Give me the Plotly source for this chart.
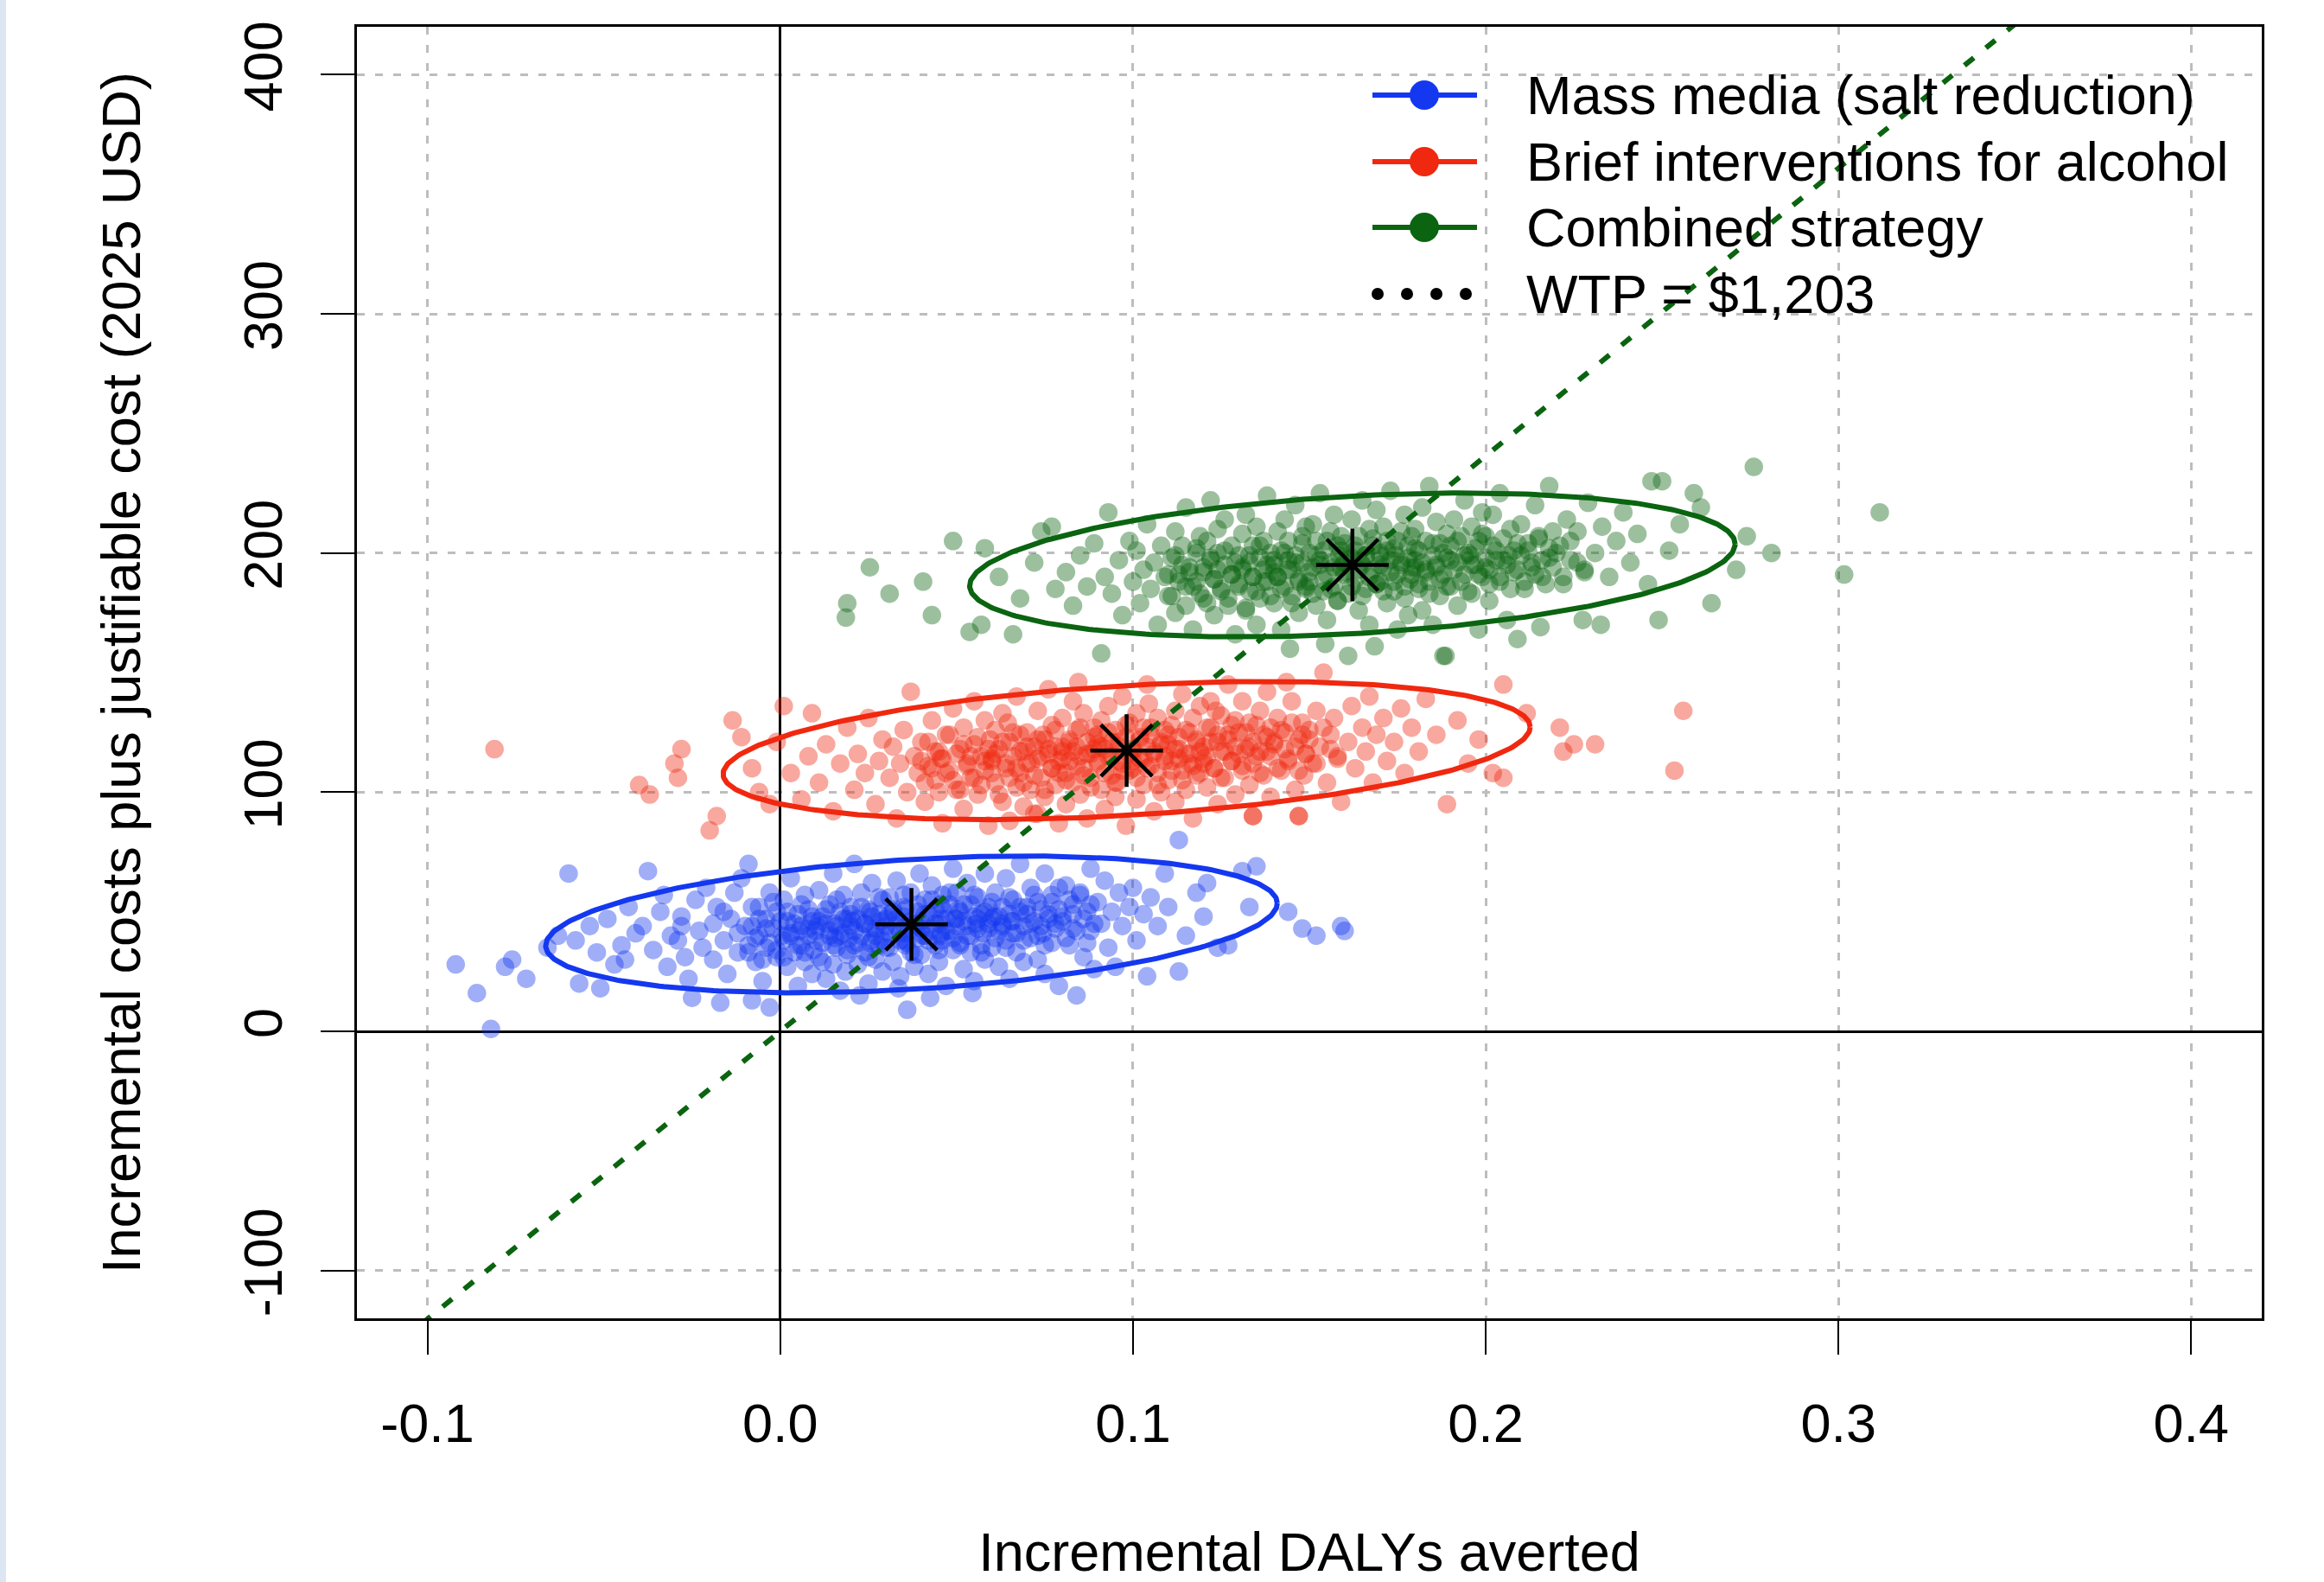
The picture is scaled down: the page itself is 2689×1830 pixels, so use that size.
import numpy as np
import plotly.graph_objects as go

# ---------------- data ----------------
series_names = ["Mass media (salt reduction)", "Brief interventions for alcohol", "Combined strategy"]
wtp_label = "WTP = $1,203"
wtp_value = 1203

x_tick_vals = [-0.1, 0.0, 0.1, 0.2, 0.3, 0.4]
x_tick_text = ["-0.1", "0.0", "0.1", "0.2", "0.3", "0.4"]
y_tick_vals = [-100, 0, 100, 200, 300, 400]
y_tick_text = ["-100", "0", "100", "200", "300", "400"]

x_title = "Incremental DALYs averted"
y_title = "Incremental costs plus justifiable cost (2025 USD)"

# simulated (PSA) points: (incremental DALYs averted, incremental cost)
blue_points = [
    (-0.092, 28), (-0.086, 16), (-0.082, 1), (-0.078, 27), (-0.076, 30), (-0.072, 22),
    (-0.066, 35), (-0.060, 66), (-0.063, 40), (-0.057, 20), (-0.054, 44), (-0.052, 33),
    (-0.051, 18), (-0.058, 38), (-0.049, 47), (-0.047, 28), (-0.045, 36), (-0.043, 52),
    (-0.041, 41), (-0.044, 30), (-0.0375, 67), (-0.039, 44), (-0.036, 34), (-0.034, 50),
    (-0.032, 27), (-0.031, 40), (-0.033, 57), (-0.029, 38), (-0.028, 48), (-0.027, 31),
    (-0.026, 22), (-0.025, 14), (-0.024, 55), (-0.023, 42), (-0.022, 35), (-0.021, 60),
    (-0.028, 44), (-0.019, 45), (-0.019, 30), (-0.018, 52), (-0.017, 12), (-0.016, 38),
    (-0.015, 24), (-0.014, 47), (-0.013, 58), (-0.012, 33), (-0.012, 41), (-0.011, 64),
    (-0.016, 50), (-0.009, 70), (-0.009, 36), (-0.008, 13), (-0.008, 44), (-0.007, 29),
    (-0.006, 52), (-0.006, 40), (-0.005, 21), (-0.004, 47), (-0.004, 35), (-0.003, 10),
    (-0.003, 58), (-0.002, 43), (-0.001, 31), (-0.001, 50),
    (0.001, 38), (0.001, 55), (0.002, 46), (0.002, 27), (0.003, 64), (0.003, 41),
    (0.004, 33), (0.005, 49), (0.005, 19), (0.006, 44), (0.006, 36), (0.007, 57),
    (0.007, 29), (0.008, 40), (0.008, 51), (0.009, 24), (0.009, 46), (0.0095, 34),
    (0.010, 42), (0.011, 59), (0.011, 31), (0.012, 48), (0.012, 37), (0.013, 22),
    (0.013, 45), (0.014, 53), (0.014, 40), (0.015, 66), (0.015, 28), (0.016, 44),
    (0.016, 35), (0.017, 50), (0.017, 17), (0.018, 41), (0.018, 57), (0.019, 32),
    (0.019, 47), (0.0195, 39), (0.0185, 25),
    (0.020, 44), (0.020, 52), (0.021, 36), (0.021, 70), (0.022, 28), (0.022, 47),
    (0.023, 40), (0.023, 58), (0.024, 33), (0.024, 45), (0.025, 20), (0.025, 51),
    (0.026, 38), (0.026, 62), (0.027, 43), (0.027, 30), (0.028, 49), (0.028, 36),
    (0.029, 55), (0.029, 25), (0.0295, 42), (0.0285, 46), (0.0225, 15),
    (0.030, 47), (0.030, 35), (0.031, 56), (0.031, 41), (0.032, 29), (0.032, 50),
    (0.033, 44), (0.033, 63), (0.034, 38), (0.034, 23), (0.035, 48), (0.035, 52),
    (0.036, 9), (0.036, 41), (0.037, 33), (0.037, 58), (0.038, 45), (0.038, 27),
    (0.039, 50), (0.039, 39), (0.0395, 66), (0.0385, 44), (0.0335, 18), (0.0355, 36),
    (0.040, 46), (0.040, 32), (0.041, 55), (0.041, 40), (0.042, 24), (0.042, 49),
    (0.043, 43), (0.043, 61), (0.044, 36), (0.044, 51), (0.045, 29), (0.045, 45),
    (0.046, 57), (0.046, 38), (0.047, 47), (0.047, 19), (0.048, 53), (0.048, 42),
    (0.049, 34), (0.049, 68), (0.0495, 47), (0.0455, 40), (0.0425, 14),
    (0.050, 44), (0.050, 58), (0.051, 37), (0.051, 50), (0.052, 26), (0.052, 46),
    (0.053, 62), (0.053, 40), (0.054, 33), (0.054, 53), (0.055, 48), (0.055, 21),
    (0.056, 43), (0.056, 56), (0.057, 36), (0.057, 49), (0.058, 30), (0.058, 66),
    (0.059, 45), (0.059, 52), (0.0545, 16), (0.0575, 41),
    (0.060, 47), (0.060, 35), (0.061, 58), (0.062, 42), (0.062, 27), (0.063, 52),
    (0.063, 45), (0.064, 64), (0.064, 38), (0.065, 49), (0.065, 22), (0.066, 55),
    (0.066, 41), (0.067, 33), (0.068, 50), (0.068, 70), (0.069, 44), (0.069, 29),
    (0.0655, 46),
    (0.070, 52), (0.071, 39), (0.071, 60), (0.072, 46), (0.073, 30), (0.073, 54),
    (0.074, 44), (0.075, 66), (0.075, 24), (0.076, 49), (0.077, 37), (0.077, 57),
    (0.078, 45), (0.079, 19), (0.079, 51), (0.0745, 41),
    (0.080, 48), (0.081, 61), (0.082, 36), (0.083, 53), (0.083, 43), (0.084, 15),
    (0.085, 57), (0.086, 31), (0.087, 50), (0.088, 68), (0.088, 42), (0.089, 26),
    (0.090, 54), (0.091, 45), (0.092, 63), (0.093, 35), (0.094, 50), (0.095, 27),
    (0.096, 58), (0.097, 44), (0.099, 52),
    (0.100, 60), (0.101, 38), (0.103, 49), (0.104, 23), (0.105, 56), (0.107, 44),
    (0.109, 66), (0.110, 52), (0.113, 25), (0.113, 80), (0.115, 40), (0.118, 58),
    (0.120, 48), (0.121, 62), (0.124, 35), (0.127, 36), (0.131, 67), (0.135, 69),
    (0.133, 52), (0.144, 50), (0.148, 43), (0.152, 40), (0.160, 42), (0.159, 44),
]

blue_core_points = [
    (-0.010, 44), (-0.009, 33), (-0.008, 52), (-0.007, 39), (-0.006, 47), (-0.005, 30),
    (-0.004, 43), (-0.003, 37), (-0.002, 54), (-0.001, 34),
    (0.000, 46), (0.001, 31), (0.002, 50), (0.003, 40), (0.004, 45), (0.005, 36),
    (0.006, 53), (0.007, 33), (0.008, 43), (0.009, 48),
    (0.010, 38), (0.011, 46), (0.012, 29), (0.013, 51), (0.014, 42), (0.015, 36),
    (0.016, 55), (0.017, 40), (0.018, 47), (0.019, 34),
    (0.020, 49), (0.021, 42), (0.022, 37), (0.023, 52), (0.024, 45), (0.025, 31),
    (0.026, 48), (0.027, 40), (0.028, 56), (0.029, 38),
    (0.030, 44), (0.031, 35), (0.032, 51), (0.033, 47), (0.034, 41), (0.035, 57),
    (0.036, 37), (0.037, 46), (0.038, 32), (0.039, 53),
    (0.040, 43), (0.041, 49), (0.042, 38), (0.043, 55), (0.044, 45), (0.045, 34),
    (0.046, 51), (0.047, 42), (0.048, 58), (0.049, 39),
    (0.050, 47), (0.051, 36), (0.052, 53), (0.053, 44), (0.054, 40), (0.055, 57),
    (0.056, 47), (0.057, 33), (0.058, 50), (0.059, 43),
    (0.060, 54), (0.061, 39), (0.062, 48), (0.063, 44), (0.064, 35), (0.065, 56),
    (0.066, 46), (0.067, 41), (0.068, 52), (0.069, 38),
    (0.070, 49), (0.071, 45), (0.072, 57), (0.073, 40), (0.074, 51), (0.075, 36),
    (0.076, 47), (0.077, 54), (0.078, 43), (0.079, 60),
    (0.080, 46), (0.081, 39), (0.082, 55), (0.083, 49), (0.084, 42), (0.085, 58),
    (0.086, 47), (0.087, 37), (0.088, 53), (0.089, 45),
    (0.0055, 42), (0.0155, 45), (0.0255, 43), (0.0355, 44), (0.0455, 47), (0.0255, 50),
    (0.0355, 38), (0.0455, 41), (0.0155, 39), (0.0555, 45),
    (0.0305, 48), (0.0405, 40), (0.0205, 46), (0.0505, 51), (0.0105, 44), (0.0605, 48),
    (0.0005, 40), (0.0355, 51), (0.0455, 53), (0.0255, 37),
]

red_points = [
    (-0.081, 118), (-0.040, 103), (-0.037, 99), (-0.028, 118), (-0.030, 112), (-0.029, 106),
    (-0.0135, 130), (-0.011, 123), (-0.018, 90), (-0.020, 84),
    (-0.008, 110), (-0.006, 100), (-0.003, 95), (-0.001, 121),
    (0.001, 136), (0.003, 108), (0.006, 97), (0.009, 133), (0.008, 115),
    (0.011, 104), (0.013, 120), (0.015, 92), (0.017, 112), (0.019, 127),
    (0.021, 101), (0.022, 116), (0.024, 108), (0.025, 131), (0.027, 95), (0.028, 113),
    (0.029, 122),
    (0.031, 106), (0.032, 119), (0.033, 89), (0.034, 112), (0.035, 126), (0.036, 100),
    (0.037, 142), (0.038, 115), (0.039, 108),
    (0.040, 121), (0.041, 96), (0.042, 111), (0.043, 130), (0.044, 105), (0.045, 117),
    (0.046, 87), (0.047, 124), (0.048, 109), (0.049, 135), (0.0455, 114),
    (0.050, 101), (0.051, 118), (0.052, 127), (0.052, 93), (0.053, 112), (0.054, 106),
    (0.055, 138), (0.055, 120), (0.056, 99), (0.057, 115), (0.058, 130), (0.058, 109),
    (0.059, 86), (0.0595, 122),
    (0.060, 113), (0.061, 104), (0.061, 126), (0.062, 118), (0.063, 96), (0.063, 133),
    (0.064, 110), (0.065, 121), (0.065, 88), (0.066, 115), (0.067, 102), (0.067, 140),
    (0.068, 124), (0.068, 108), (0.069, 117), (0.069, 94), (0.0645, 129),
    (0.070, 112), (0.070, 125), (0.071, 101), (0.072, 119), (0.072, 91), (0.073, 134),
    (0.073, 114), (0.074, 106), (0.075, 122), (0.075, 98), (0.076, 116), (0.076, 143),
    (0.077, 110), (0.077, 128), (0.078, 103), (0.078, 119), (0.079, 87), (0.079, 113),
    (0.0745, 124),
    (0.080, 117), (0.080, 131), (0.081, 108), (0.081, 95), (0.082, 122), (0.082, 113),
    (0.083, 138), (0.083, 104), (0.084, 119), (0.084, 126), (0.085, 99), (0.085, 115),
    (0.086, 110), (0.086, 133), (0.087, 121), (0.087, 89), (0.088, 116), (0.088, 106),
    (0.089, 127), (0.089, 118), (0.0845, 146),
    (0.090, 112), (0.090, 124), (0.091, 101), (0.091, 130), (0.092, 118), (0.092, 93),
    (0.093, 115), (0.093, 136), (0.094, 107), (0.094, 121), (0.095, 126), (0.095, 98),
    (0.096, 113), (0.096, 119), (0.097, 140), (0.097, 109), (0.098, 123), (0.098, 86),
    (0.099, 116), (0.099, 129), (0.0955, 104),
    (0.100, 118), (0.100, 110), (0.101, 133), (0.101, 97), (0.102, 122), (0.102, 114),
    (0.103, 127), (0.103, 103), (0.104, 119), (0.104, 145), (0.105, 111), (0.105, 124),
    (0.106, 92), (0.106, 116), (0.107, 131), (0.107, 108), (0.108, 121), (0.108, 100),
    (0.109, 126), (0.109, 115), (0.1045, 137),
    (0.110, 120), (0.110, 105), (0.111, 128), (0.111, 113), (0.112, 96), (0.112, 134),
    (0.113, 118), (0.113, 123), (0.114, 109), (0.114, 141), (0.115, 116), (0.115, 101),
    (0.116, 125), (0.116, 112), (0.117, 131), (0.117, 89), (0.118, 121), (0.118, 107),
    (0.119, 117), (0.119, 136),
    (0.120, 114), (0.121, 127), (0.121, 102), (0.122, 121), (0.122, 138), (0.123, 110),
    (0.124, 124), (0.124, 95), (0.125, 117), (0.125, 132), (0.126, 106), (0.127, 122),
    (0.127, 145), (0.128, 113), (0.128, 128), (0.129, 99), (0.129, 119), (0.1235, 134),
    (0.130, 125), (0.131, 111), (0.131, 138), (0.132, 118), (0.133, 103), (0.133, 129),
    (0.134, 90), (0.134, 121), (0.135, 115), (0.136, 134), (0.136, 108), (0.137, 124),
    (0.138, 142), (0.138, 117), (0.139, 98), (0.139, 127),
    (0.140, 120), (0.141, 131), (0.142, 109), (0.143, 125), (0.144, 114), (0.145, 138),
    (0.146, 101), (0.147, 122), (0.147, 90), (0.148, 129), (0.149, 116), (0.1435, 146),
    (0.1485, 107),
    (0.150, 126), (0.151, 112), (0.152, 134), (0.153, 119), (0.154, 150), (0.155, 104),
    (0.156, 124), (0.157, 131), (0.158, 115), (0.159, 96),
    (0.161, 121), (0.162, 136), (0.163, 110), (0.165, 127), (0.166, 117), (0.167, 140),
    (0.168, 104), (0.169, 124),
    (0.171, 131), (0.172, 113), (0.174, 121), (0.176, 135), (0.177, 108), (0.179, 127),
    (0.181, 117), (0.183, 139), (0.186, 124), (0.189, 95),
    (0.192, 130), (0.195, 112), (0.198, 122),
    (0.202, 108), (0.205, 106), (0.205, 145), (0.2116, 133), (0.221, 127), (0.222, 117),
    (0.225, 120), (0.231, 120), (0.2535, 109), (0.256, 134),
    (0.073, 91), (0.134, 90), (0.147, 90),
]

red_core_points = [
    (0.040, 113), (0.041, 104), (0.042, 121), (0.043, 110), (0.044, 117), (0.045, 100),
    (0.046, 114), (0.047, 108), (0.048, 124), (0.049, 105),
    (0.050, 116), (0.051, 101), (0.052, 120), (0.053, 111), (0.054, 115), (0.055, 106),
    (0.056, 123), (0.057, 103), (0.058, 113), (0.059, 118),
    (0.060, 108), (0.061, 116), (0.062, 99), (0.063, 121), (0.064, 112), (0.065, 106),
    (0.066, 125), (0.067, 110), (0.068, 117), (0.069, 104),
    (0.070, 119), (0.071, 112), (0.072, 107), (0.073, 122), (0.074, 115), (0.075, 101),
    (0.076, 118), (0.077, 110), (0.078, 126), (0.079, 108),
    (0.080, 114), (0.081, 105), (0.082, 121), (0.083, 117), (0.084, 111), (0.085, 127),
    (0.086, 107), (0.087, 116), (0.088, 102), (0.089, 123),
    (0.090, 113), (0.091, 119), (0.092, 108), (0.093, 125), (0.094, 115), (0.095, 104),
    (0.096, 121), (0.097, 112), (0.098, 128), (0.099, 109),
    (0.100, 117), (0.101, 106), (0.102, 123), (0.103, 114), (0.104, 110), (0.105, 127),
    (0.106, 117), (0.107, 103), (0.108, 120), (0.109, 113),
    (0.110, 124), (0.111, 109), (0.112, 118), (0.113, 114), (0.114, 105), (0.115, 126),
    (0.116, 116), (0.117, 111), (0.118, 122), (0.119, 108),
    (0.120, 119), (0.121, 115), (0.122, 127), (0.123, 110), (0.124, 121), (0.125, 106),
    (0.126, 117), (0.127, 124), (0.128, 113), (0.129, 130),
    (0.130, 116), (0.131, 109), (0.132, 125), (0.133, 119), (0.134, 112), (0.135, 128),
    (0.136, 117), (0.137, 107), (0.138, 123), (0.139, 115),
    (0.140, 121), (0.141, 110), (0.142, 126), (0.143, 118), (0.144, 113), (0.145, 129),
    (0.146, 119), (0.147, 109), (0.148, 124), (0.149, 116),
    (0.150, 122), (0.152, 112), (0.154, 127), (0.156, 118), (0.158, 114), (0.060, 114),
    (0.080, 119), (0.100, 113), (0.120, 112), (0.090, 120),
]

green_points = [
    (0.019, 179), (0.0186, 173), (0.0254, 194), (0.031, 183), (0.0405, 188), (0.043, 174),
    (0.049, 205), (0.0537, 167), (0.057, 170), (0.058, 202), (0.066, 166),
    (0.062, 190), (0.068, 181),
    (0.072, 196), (0.074, 209), (0.077, 211), (0.078, 185),
    (0.081, 192), (0.083, 178), (0.085, 199), (0.087, 186), (0.089, 204),
    (0.091, 158), (0.093, 217), (0.092, 190), (0.094, 183), (0.096, 197), (0.097, 174),
    (0.099, 205),
    (0.100, 188), (0.101, 201), (0.102, 179), (0.103, 193), (0.104, 212), (0.105, 185),
    (0.106, 196), (0.107, 170), (0.108, 203), (0.109, 190),
    (0.110, 182), (0.111, 198), (0.112, 209), (0.112, 175), (0.113, 191), (0.114, 203),
    (0.115, 186), (0.115, 219), (0.116, 194), (0.117, 168), (0.118, 200), (0.118, 188),
    (0.119, 207),
    (0.120, 192), (0.120, 181), (0.121, 205), (0.122, 222), (0.122, 197), (0.123, 174),
    (0.123, 189), (0.124, 210), (0.124, 200), (0.125, 185), (0.126, 195), (0.126, 214),
    (0.127, 178), (0.128, 203), (0.128, 191), (0.129, 166),
    (0.130, 199), (0.130, 187), (0.131, 208), (0.131, 193), (0.132, 176), (0.132, 216),
    (0.133, 196), (0.133, 184), (0.134, 203), (0.134, 190), (0.135, 170), (0.135, 211),
    (0.136, 198), (0.136, 181), (0.137, 205), (0.137, 193), (0.138, 224), (0.138, 188),
    (0.139, 200),
    (0.140, 195), (0.140, 179), (0.141, 209), (0.141, 190), (0.142, 201), (0.142, 168),
    (0.143, 186), (0.143, 214), (0.144, 197), (0.144, 205), (0.145, 182), (0.145, 193),
    (0.146, 220), (0.146, 199), (0.147, 175), (0.147, 189), (0.148, 207), (0.148, 196),
    (0.149, 185), (0.149, 211), (0.1445, 160),
    (0.150, 200), (0.150, 188), (0.151, 212), (0.151, 194), (0.152, 178), (0.152, 205),
    (0.153, 197), (0.153, 225), (0.154, 184), (0.154, 201), (0.155, 191), (0.155, 172),
    (0.156, 209), (0.156, 196), (0.157, 186), (0.157, 216), (0.158, 203), (0.158, 180),
    (0.159, 194), (0.159, 207), (0.1545, 162), (0.1585, 199),
    (0.160, 192), (0.160, 204), (0.161, 183), (0.161, 157), (0.162, 198), (0.162, 214),
    (0.163, 189), (0.163, 201), (0.164, 176), (0.164, 207), (0.165, 195), (0.165, 222),
    (0.166, 185), (0.166, 199), (0.167, 210), (0.167, 170), (0.168, 193), (0.168, 203),
    (0.169, 187), (0.169, 218), (0.1685, 161), (0.1645, 196),
    (0.170, 200), (0.170, 188), (0.171, 211), (0.171, 194), (0.172, 179), (0.172, 205),
    (0.173, 197), (0.173, 226), (0.174, 184), (0.174, 202), (0.175, 191), (0.175, 168),
    (0.176, 209), (0.176, 196), (0.177, 186), (0.177, 216), (0.178, 203), (0.178, 174),
    (0.179, 194), (0.179, 207), (0.1745, 199), (0.1785, 189),
    (0.180, 197), (0.180, 210), (0.181, 185), (0.181, 201), (0.182, 176), (0.182, 219),
    (0.183, 193), (0.183, 205), (0.184, 228), (0.184, 188), (0.185, 199), (0.185, 170),
    (0.186, 213), (0.186, 195), (0.187, 182), (0.187, 204), (0.188, 191), (0.188, 157),
    (0.189, 208), (0.189, 198),
    (0.190, 203), (0.190, 186), (0.191, 214), (0.192, 196), (0.192, 178), (0.193, 207),
    (0.194, 191), (0.194, 222), (0.195, 200), (0.196, 183), (0.196, 211), (0.197, 195),
    (0.198, 168), (0.198, 205), (0.199, 190), (0.199, 217), (0.1955, 199),
    (0.200, 207), (0.201, 193), (0.201, 180), (0.202, 216), (0.203, 201), (0.204, 188),
    (0.204, 225), (0.205, 197), (0.206, 172), (0.207, 210), (0.208, 192), (0.209, 164),
    (0.209, 204), (0.2065, 199),
    (0.210, 212), (0.211, 185), (0.212, 201), (0.213, 194), (0.214, 220), (0.2155, 169),
    (0.215, 206), (0.216, 190), (0.218, 228), (0.218, 198), (0.219, 209),
    (0.221, 203), (0.222, 187), (0.223, 214), (0.224, 197), (0.2275, 172), (0.226, 209),
    (0.228, 193), (0.229, 221),
    (0.231, 200), (0.2326, 170), (0.233, 211), (0.235, 190), (0.237, 205), (0.239, 217),
    (0.241, 196), (0.243, 208), (0.247, 230), (0.249, 172), (0.250, 230), (0.246, 187),
    (0.252, 201), (0.255, 212), (0.259, 225),
    (0.261, 219), (0.264, 179), (0.271, 193), (0.274, 207), (0.276, 236), (0.281, 200),
    (0.3016, 191), (0.3117, 217), (0.1886, 157),
]

green_core_points = [
    (0.110, 191), (0.111, 182), (0.112, 199), (0.113, 188), (0.114, 195), (0.115, 178),
    (0.116, 192), (0.117, 186), (0.118, 202), (0.119, 183),
    (0.120, 194), (0.121, 179), (0.122, 198), (0.123, 189), (0.124, 193), (0.125, 184),
    (0.126, 201), (0.127, 181), (0.128, 191), (0.129, 196),
    (0.130, 186), (0.131, 194), (0.132, 177), (0.133, 199), (0.134, 190), (0.135, 184),
    (0.136, 203), (0.137, 188), (0.138, 195), (0.139, 182),
    (0.140, 197), (0.141, 190), (0.142, 185), (0.143, 200), (0.144, 193), (0.145, 179),
    (0.146, 196), (0.147, 188), (0.148, 204), (0.149, 186),
    (0.150, 192), (0.151, 183), (0.152, 199), (0.153, 195), (0.154, 189), (0.155, 205),
    (0.156, 185), (0.157, 194), (0.158, 180), (0.159, 201),
    (0.160, 191), (0.161, 197), (0.162, 186), (0.163, 203), (0.164, 193), (0.165, 182),
    (0.166, 199), (0.167, 190), (0.168, 206), (0.169, 187),
    (0.170, 195), (0.171, 184), (0.172, 201), (0.173, 192), (0.174, 188), (0.175, 205),
    (0.176, 195), (0.177, 181), (0.178, 198), (0.179, 191),
    (0.180, 202), (0.181, 187), (0.182, 196), (0.183, 192), (0.184, 183), (0.185, 204),
    (0.186, 194), (0.187, 189), (0.188, 200), (0.189, 186),
    (0.190, 197), (0.191, 193), (0.192, 205), (0.193, 188), (0.194, 199), (0.195, 184),
    (0.196, 195), (0.197, 202), (0.198, 191), (0.199, 208),
    (0.200, 194), (0.201, 187), (0.202, 203), (0.203, 197), (0.204, 190), (0.205, 206),
    (0.206, 195), (0.207, 185), (0.208, 201), (0.209, 193),
    (0.210, 199), (0.211, 188), (0.212, 204), (0.213, 196), (0.214, 191), (0.215, 207),
    (0.216, 197), (0.217, 187), (0.218, 202), (0.219, 194),
    (0.220, 200), (0.222, 190), (0.224, 205), (0.226, 196), (0.228, 192), (0.140, 192),
    (0.160, 196), (0.180, 194), (0.200, 198), (0.170, 199),
]

# means (asterisks) and 95% ellipse parameters (half-widths in data units, correlation)
mean_x = [0.0372, 0.0982, 0.1622]
mean_y = [44.7, 117.4, 195.0]
ellipse_sx = [0.1037, 0.1144, 0.1085]
ellipse_sy = [28.6, 28.9, 30.1]
ellipse_rho = [0.31, 0.34, 0.29]

# ---------------- styling ----------------
colors = ["#1438F0", "#F0280F", "#0A6410"]
FONT = "Liberation Sans, Arial, Helvetica, sans-serif"
FS = 63
W, H = 2689, 1830
ML, MR, MT, MB = 413, 72, 31, 305
PW, PH = W - ML - MR, H - MT - MB

fig = go.Figure()

clouds = [blue_points + blue_core_points, red_points + red_core_points,
          green_points + green_core_points]
for pts, col, name in zip(clouds, colors, series_names):
    fig.add_trace(go.Scatter(
        x=[p[0] for p in pts], y=[p[1] for p in pts], mode="markers", name=name,
        showlegend=False, hoverinfo="skip",
        marker=dict(size=20, color=col, opacity=0.4, line=dict(width=1.5, color=col)),
    ))

# WTP line through the origin
wtp_x = [-0.12, 0.42]
fig.add_trace(go.Scatter(
    x=wtp_x, y=[wtp_value * v for v in wtp_x], mode="lines", name=wtp_label, showlegend=False,
    line=dict(color="#0A640F", width=6, dash="14px,18px"), hoverinfo="skip",
))

# confidence ellipses
t = np.linspace(0, 2 * np.pi, 400)
for cx, cy, sx, sy, rho, col in zip(mean_x, mean_y, ellipse_sx, ellipse_sy, ellipse_rho, colors):
    ex = cx + sx * np.cos(t)
    ey = cy + sy * (rho * np.cos(t) + np.sqrt(1 - rho ** 2) * np.sin(t))
    fig.add_trace(go.Scatter(x=ex, y=ey, mode="lines", showlegend=False, hoverinfo="skip",
                             line=dict(color=col, width=6)))

# means
fig.add_trace(go.Scatter(
    x=mean_x, y=mean_y, mode="markers", showlegend=False, hoverinfo="skip",
    marker=dict(symbol="asterisk-open", size=70, color="black", line=dict(width=4.5, color="black")),
))

# ---------------- manual legend (R style, no box) ----------------
def pxx(X):
    return (X - ML) / PW


def pxy(Y):
    return (MT + PH - Y) / PH


shapes = []
annotations = []
row_y = [110, 187, 263, 340]
for i, (name, col) in enumerate(zip(series_names, colors)):
    yy = pxy(row_y[i])
    shapes.append(dict(type="line", xref="paper", yref="paper", x0=pxx(1588), x1=pxx(1709),
                       y0=yy, y1=yy, line=dict(color=col, width=6)))
    shapes.append(dict(type="circle", xref="paper", yref="paper", xsizemode="pixel",
                       ysizemode="pixel", xanchor=pxx(1648), yanchor=yy,
                       x0=-17, x1=17, y0=-17, y1=17, fillcolor=col, line=dict(width=0)))
    annotations.append(dict(x=pxx(1764), y=yy, xref="paper", yref="paper", text=name,
                            showarrow=False, xanchor="left", yanchor="middle",
                            font=dict(family=FONT, size=FS, color="black")))
yy = pxy(row_y[3])
for k in range(4):
    cxp = 1594 + 34 * k
    shapes.append(dict(type="circle", xref="paper", yref="paper", xsizemode="pixel",
                       ysizemode="pixel", xanchor=pxx(cxp), yanchor=yy,
                       x0=-7, x1=7, y0=-7, y1=7, fillcolor="black", line=dict(width=0)))
annotations.append(dict(x=pxx(1764), y=yy, xref="paper", yref="paper", text=wtp_label,
                        showarrow=False, xanchor="left", yanchor="middle",
                        font=dict(family=FONT, size=FS, color="black")))

# light blue strip at the far left of the picture
shapes.append(dict(type="rect", xref="paper", yref="paper", x0=pxx(0), x1=pxx(7),
                   y0=pxy(H), y1=pxy(0), fillcolor="#DCE6F2", line=dict(width=0), layer="below"))

axis_common = dict(
    showline=True, linecolor="black", linewidth=3, mirror=True,
    ticks="outside", ticklen=39, tickwidth=2, tickcolor="black",
    showgrid=True, gridcolor="#BDBDBD", gridwidth=2.5, griddash="9px,12px",
    zeroline=True, zerolinecolor="black", zerolinewidth=3,
    tickfont=dict(family=FONT, size=FS, color="black"),
)

fig.update_layout(
    width=W, height=H,
    margin=dict(l=ML, r=MR, t=MT, b=MB, autoexpand=False),
    paper_bgcolor="white", plot_bgcolor="white",
    font=dict(family=FONT, size=FS, color="black"),
    showlegend=False,
    shapes=shapes, annotations=annotations,
    xaxis=dict(range=[-0.12, 0.42], tickvals=x_tick_vals, ticktext=x_tick_text,
               ticklabelstandoff=25,
               title=dict(text=x_title, font=dict(family=FONT, size=FS, color="black"), standoff=100),
               **axis_common),
    yaxis=dict(range=[-120, 420], tickvals=y_tick_vals, ticktext=y_tick_text,
               tickangle=-90, ticklabelstandoff=20,
               title=dict(text=y_title, font=dict(family=FONT, size=FS, color="black"), standoff=86),
               **axis_common),
)

fig.write_html("out.html", config={"displayModeBar": False},
               post_script="document.body.style.margin='0';")
